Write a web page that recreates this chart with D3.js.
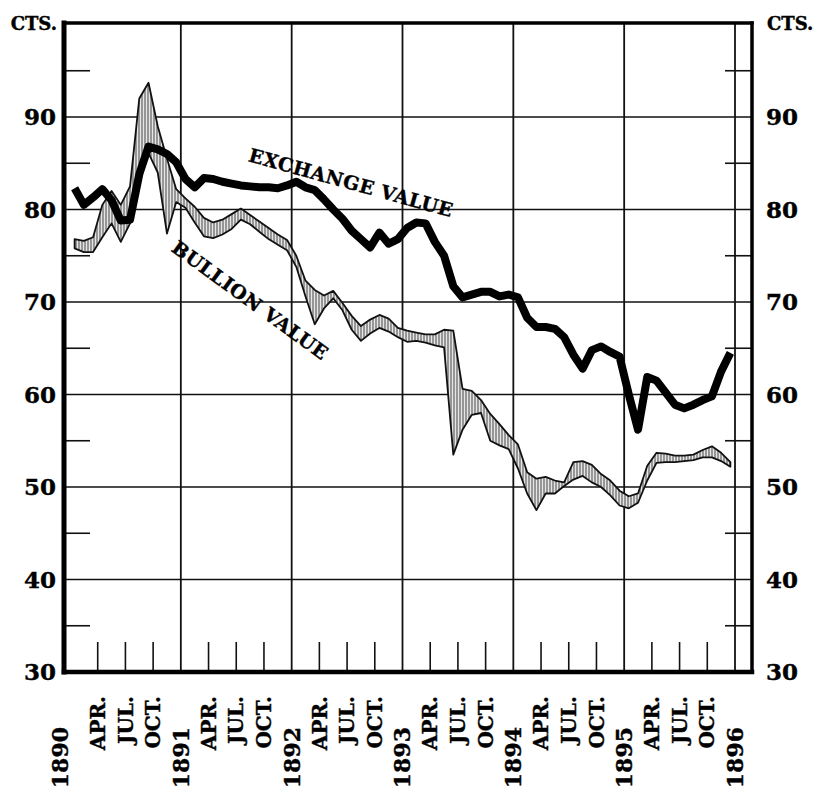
<!DOCTYPE html>
<html>
<head>
<meta charset="utf-8">
<script src="https://cdn.jsdelivr.net/npm/d3@7"></script>
<style>
  body { margin: 0; background: #fff; }
  svg { display: block; font-family: "DejaVu Serif", serif; font-weight: bold; }
  text { stroke: #000; stroke-width: 0.4px; }
</style>
</head>
<body>
<script>
const YEARS = [1890, 1891, 1892, 1893, 1894, 1895];
const YEAR_LABELS = [1890, 1891, 1892, 1893, 1894, 1895, 1896];
const MONTH_LABELS = ["APR.", "JUL.", "OCT."];
const MONTH_TICKS = [3, 6, 9];
const Y_LABELS = [30, 40, 50, 60, 70, 80, 90];
const Y_MINOR = [35, 45, 55, 65, 75, 85, 95];

// cents per ounce, one value per month, Jan 1890 .. Dec 1895
const EXCHANGE_VALUE = [
    82.3, 80.5, 81.3, 82.2, 81.0, 78.8, 78.9, 83.8, 86.8, 86.5, 86.0, 85.1,
    83.3, 82.4, 83.4, 83.3, 83.0, 82.8, 82.6, 82.5, 82.4, 82.4, 82.3, 82.6,
    83.0, 82.4, 82.1, 81.1, 80.0, 79.0, 77.7, 76.8, 75.9, 77.5, 76.3, 76.8,
    78.0, 78.6, 78.5, 76.5, 75.0, 71.7, 70.5, 70.8, 71.1, 71.1, 70.6, 70.8,
    70.5, 68.3, 67.3, 67.3, 67.1, 66.2, 64.3, 62.8, 64.8, 65.2, 64.6, 64.1,
    60.0, 56.2, 61.9, 61.5, 60.2, 58.9, 58.5, 58.9, 59.4, 59.8, 62.5, 64.5
];
const BULLION_HIGH = [
    76.8, 76.6, 77.0, 80.5, 82.0, 80.5, 82.5, 92.0, 93.7, 89.0, 85.5, 82.2,
    81.2, 80.3, 79.1, 78.6, 78.9, 79.5, 80.1, 79.4, 78.7, 78.0, 77.3, 76.7,
    75.0, 72.3, 71.3, 70.7, 71.2, 69.9, 68.5, 67.4, 68.1, 68.6, 68.2, 67.2,
    66.9, 66.7, 66.5, 66.5, 67.0, 66.9, 60.6, 60.4, 59.4, 57.9, 56.8, 55.6,
    54.6, 51.6, 50.9, 51.1, 50.7, 50.5, 52.7, 52.8, 52.4, 51.4, 50.7, 49.6,
    49.0, 49.3, 52.3, 53.7, 53.6, 53.4, 53.4, 53.5, 54.0, 54.4, 53.7, 52.7
];
const BULLION_LOW = [
    75.8, 75.4, 75.4, 77.0, 78.5, 76.5, 78.5, 83.0, 86.1, 84.0, 77.4, 80.8,
    80.2, 78.6, 77.1, 76.9, 77.3, 77.9, 78.9, 78.4, 77.6, 76.8, 76.2, 75.6,
    73.8, 70.6, 67.6, 69.3, 70.4, 69.1, 67.0, 65.8, 66.6, 67.2, 66.8, 66.2,
    65.7, 65.8, 65.6, 65.3, 65.1, 53.5, 56.2, 57.8, 58.0, 55.0, 54.5, 54.1,
    52.0, 49.3, 47.5, 49.3, 49.3, 50.1, 50.8, 51.2, 50.5, 50.0, 49.1, 48.0,
    47.7, 48.3, 50.7, 52.6, 52.7, 52.7, 52.8, 52.9, 53.2, 53.2, 52.8, 52.2
];

const LABELS = [
    { text: "EXCHANGE VALUE", date: 1892.52, value: 82.2, angle: 15.5 },
    { text: "BULLION VALUE", date: 1891.59, value: 69.6, angle: 36 }
];

const months = YEARS.flatMap(year => d3.range(12).map(m => year + (m + 0.5) / 12));
const points = months.map((date, i) => ({
    date: date,
    exchange: EXCHANGE_VALUE[i],
    high: BULLION_HIGH[i],
    low: BULLION_LOW[i]
}));

const svg = d3.select("body").append("svg")
    .attr("width", 817)
    .attr("height", 793);

const x = d3.scaleLinear().domain([1890, 1896]).range([70, 735]);
const y = d3.scaleLinear().domain([30, 100]).range([672, 24.5]);

const frame = { left: 64, right: 752, top: 23, bottom: 672 };

const pattern = svg.append("defs").append("pattern")
    .attr("id", "hatch")
    .attr("patternUnits", "userSpaceOnUse")
    .attr("width", 3)
    .attr("height", 6);
pattern.append("rect").attr("width", 3).attr("height", 6).attr("fill", "#e6e6e6");
pattern.append("line")
    .attr("x1", 1).attr("x2", 1).attr("y1", 0).attr("y2", 6)
    .attr("stroke", "#555")
    .attr("stroke-width", 1.1);

// horizontal rules
svg.append("g").selectAll("line")
    .data(Y_LABELS.slice(1))
    .enter()
    .append("line")
    .attr("x1", frame.left).attr("x2", frame.right)
    .attr("y1", d => y(d)).attr("y2", d => y(d))
    .attr("stroke", "#111")
    .attr("stroke-width", 1.6);

// half-way ticks on both sides
svg.append("g").selectAll("line")
    .data(Y_MINOR)
    .enter()
    .append("line")
    .attr("x1", frame.left).attr("x2", frame.left + 26)
    .attr("y1", d => y(d)).attr("y2", d => y(d))
    .attr("stroke", "#111")
    .attr("stroke-width", 1.6);
svg.append("g").selectAll("line")
    .data(Y_MINOR)
    .enter()
    .append("line")
    .attr("x1", frame.right - 27).attr("x2", frame.right)
    .attr("y1", d => y(d)).attr("y2", d => y(d))
    .attr("stroke", "#111")
    .attr("stroke-width", 1.6);

// year rules
svg.append("g").selectAll("line")
    .data(YEAR_LABELS.slice(1))
    .enter()
    .append("line")
    .attr("x1", d => x(d)).attr("x2", d => x(d))
    .attr("y1", frame.top).attr("y2", frame.bottom)
    .attr("stroke", "#111")
    .attr("stroke-width", 1.8);

// quarter ticks
const quarters = YEARS.flatMap(year => MONTH_TICKS.map(m => year + m / 12));
svg.append("g").selectAll("line")
    .data(quarters)
    .enter()
    .append("line")
    .attr("x1", d => x(d)).attr("x2", d => x(d))
    .attr("y1", frame.bottom).attr("y2", frame.bottom - 30)
    .attr("stroke", "#111")
    .attr("stroke-width", 1.6);

// frame
const border = [
    [frame.left, frame.top, frame.left, frame.bottom, 5],
    [frame.left, frame.bottom, frame.right, frame.bottom, 4.5],
    [frame.left, frame.top, frame.right, frame.top, 3.5],
    [frame.right, frame.top, frame.right, frame.bottom, 3.5]
];
svg.append("g").selectAll("line")
    .data(border)
    .enter()
    .append("line")
    .attr("x1", d => d[0]).attr("y1", d => d[1])
    .attr("x2", d => d[2]).attr("y2", d => d[3])
    .attr("stroke", "#000")
    .attr("stroke-width", d => d[4])
    .attr("stroke-linecap", "square");

// bullion band
const band = d3.area()
    .x(d => x(d.date))
    .y0(d => y(d.low))
    .y1(d => y(d.high));
svg.append("path")
    .datum(points)
    .attr("d", band)
    .attr("fill", "url(#hatch)")
    .attr("stroke", "#111")
    .attr("stroke-width", 1.8)
    .attr("stroke-linejoin", "round");

// exchange line
const line = d3.line()
    .x(d => x(d.date))
    .y(d => y(d.exchange));
svg.append("path")
    .datum(points)
    .attr("d", line)
    .attr("fill", "none")
    .attr("stroke", "#000")
    .attr("stroke-width", 8)
    .attr("stroke-linejoin", "round");

// series names
svg.append("g").selectAll("text")
    .data(LABELS)
    .enter()
    .append("text")
    .attr("transform", d => `translate(${x(d.date)}, ${y(d.value)}) rotate(${d.angle})`)
    .attr("text-anchor", "middle")
    .attr("font-size", 19)
    .attr("letter-spacing", 0.6)
    .text(d => d.text);

// value labels
svg.append("g").selectAll("text")
    .data(Y_LABELS)
    .enter()
    .append("text")
    .attr("x", frame.left - 8)
    .attr("y", d => y(d))
    .attr("dy", "0.36em")
    .attr("text-anchor", "end")
    .attr("font-size", 23)
    .text(d => d);
svg.append("g").selectAll("text")
    .data(Y_LABELS)
    .enter()
    .append("text")
    .attr("x", frame.right + 14)
    .attr("y", d => y(d))
    .attr("dy", "0.36em")
    .attr("font-size", 23)
    .text(d => d);

svg.append("text")
    .attr("x", frame.left - 7).attr("y", 30)
    .attr("text-anchor", "end")
    .attr("font-size", 18)
    .text("CTS.");
svg.append("text")
    .attr("x", frame.right + 15).attr("y", 30)
    .attr("font-size", 18)
    .text("CTS.");

// date labels
const monthLabels = YEARS.flatMap(year => MONTH_TICKS.map((m, i) => ({ date: year + m / 12, text: MONTH_LABELS[i] })));
svg.append("g").selectAll("text")
    .data(monthLabels)
    .enter()
    .append("text")
    .attr("transform", d => `translate(${x(d.date)}, 696) rotate(-90)`)
    .attr("dy", "0.36em")
    .attr("text-anchor", "end")
    .attr("font-size", 20)
    .text(d => d.text);
svg.append("g").selectAll("text")
    .data(YEAR_LABELS)
    .enter()
    .append("text")
    .attr("transform", d => `translate(${d === 1890 ? x(d) - 10 : x(d)}, 727) rotate(-90)`)
    .attr("dy", "0.36em")
    .attr("text-anchor", "end")
    .attr("font-size", 22)
    .text(d => d);
</script>
</body>
</html>
